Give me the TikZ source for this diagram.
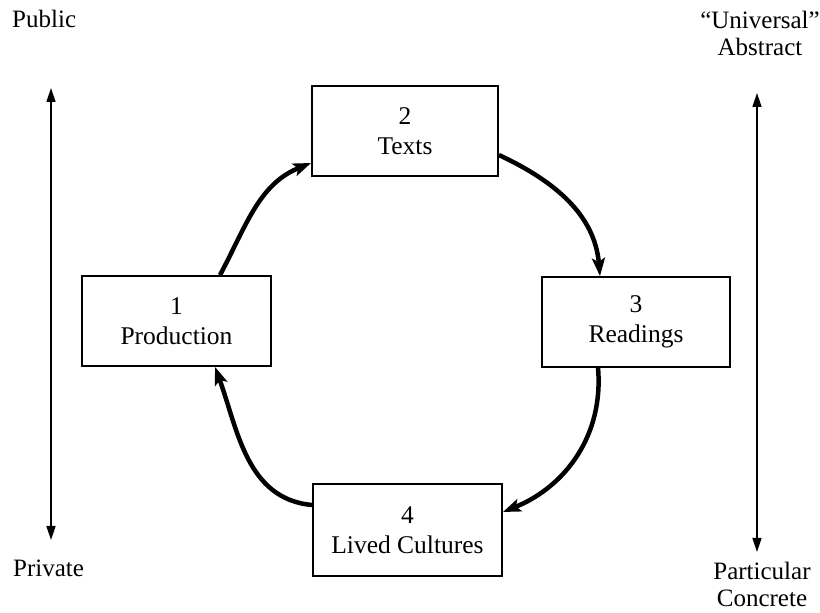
\documentclass[tikz,border=0pt]{standalone}
\usepackage{fontspec}
\setmainfont{Liberation Serif}
\usetikzlibrary{arrows.meta}
\begin{document}
\begin{tikzpicture}[x=1pt,y=1pt,
  stagebox/.style={draw, line width=1.8pt, align=center, inner sep=0pt,
    font=\fontsize{25.5}{30}\selectfont},
  flow/.style={line width=4.5pt, -{Stealth[length=18pt,width=13pt,inset=4pt]}},
  axis/.style={line width=1.6pt, {Triangle[length=14pt,width=9pt]}-{Triangle[length=14pt,width=9pt]}},
  lbl/.style={inner sep=0pt, align=center, font=\fontsize{25}{27}\selectfont}]
\useasboundingbox (0,0) rectangle (820,613);
% boxes
\node[stagebox, minimum width=189pt, minimum height=90pt] (b1) at (176.5,292) {1\\Production};
\node[stagebox, minimum width=186pt, minimum height=90pt] (b2) at (405,482) {2\\Texts};
\node[stagebox, minimum width=188pt, minimum height=90pt] (b3) at (636,291) {3\\Readings};
\node[stagebox, minimum width=189pt, minimum height=92pt] (b4) at (407.5,83) {4\\Lived Cultures};
% cycle connectors
\draw[flow] ([xshift=43.5pt]b1.north) to[out=62,in=202] ([yshift=-32pt]b2.west);
\draw[flow] ([yshift=-24pt]b2.east) to[out=-25,in=95] ([xshift=-36pt]b3.north);
\draw[flow] ([xshift=-38pt]b3.south) to[out=-85,in=22] ([yshift=18pt]b4.east);
\draw[flow] ([yshift=25pt]b4.west) to[out=175,in=-70] ([xshift=38.5pt]b1.south);
% side axes
\coordinate (lt) at (51,525);
\coordinate (lb) at (51,73);
\coordinate (rt) at (757,520);
\coordinate (rb) at (757,61);
\draw[axis] (lb) -- (lt);
\draw[axis] (rb) -- (rt);
% labels
\node[lbl, anchor=base west] (pub) at (12,585) {Public};
\node[lbl, anchor=base west] (pri) at (13,36) {Private};
\node[lbl] (uni) at (760,580) {“Universal”\\Abstract};
\node[lbl] (par) at (762,29) {Particular\\Concrete};
\end{tikzpicture}
\end{document}
